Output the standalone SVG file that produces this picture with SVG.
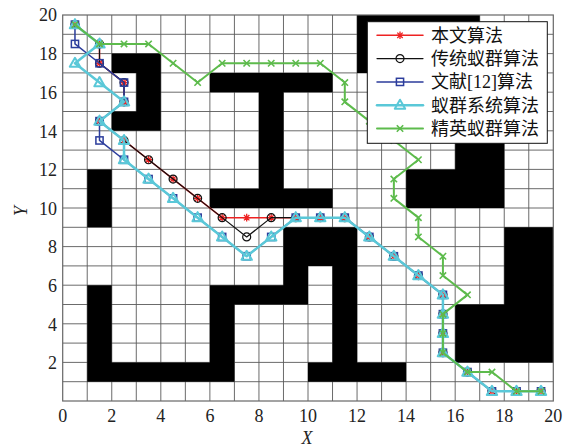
<svg xmlns="http://www.w3.org/2000/svg" width="569" height="447" viewBox="0 0 569 447">
<style>
.tick{font-family:"Liberation Serif","Times New Roman",serif;font-size:18px;fill:#222}
.lab{font-family:"Liberation Serif","Times New Roman",serif;font-size:18px;font-style:italic;fill:#222}
.leg{font-family:"Liberation Serif","Noto Sans CJK SC",serif;font-size:18px;fill:#111}
.path{fill:none;stroke-linejoin:round;stroke-linecap:round}
</style>
<defs>
<marker id="mRed" markerUnits="userSpaceOnUse" viewBox="-6 -6 12 12" markerWidth="12" markerHeight="12" refX="0" refY="0" orient="0" overflow="visible">
<path d="M-3.8,0H3.8M0,-3.8V3.8M-2.7,-2.7L2.7,2.7M-2.7,2.7L2.7,-2.7" fill="none" stroke="#ee2222" stroke-width="1.3"/>
</marker>
<marker id="mBlack" markerUnits="userSpaceOnUse" viewBox="-6 -6 12 12" markerWidth="12" markerHeight="12" refX="0" refY="0" orient="0" overflow="visible">
<circle r="4" fill="none" stroke="#111" stroke-width="1.2"/>
</marker>
<marker id="mBlue" markerUnits="userSpaceOnUse" viewBox="-6 -6 12 12" markerWidth="12" markerHeight="12" refX="0" refY="0" orient="0" overflow="visible">
<rect x="-3.6" y="-3.6" width="7.2" height="7.2" fill="none" stroke="#2c3d9c" stroke-width="1.5"/>
</marker>
<marker id="mCyan" markerUnits="userSpaceOnUse" viewBox="-7 -7 14 14" markerWidth="14" markerHeight="14" refX="0" refY="0" orient="0" overflow="visible">
<polygon points="0,-5.5 5.2,3.6 -5.2,3.6" fill="none" stroke="#5ac8d8" stroke-width="2" stroke-linejoin="round"/>
</marker>
<marker id="mGreen" markerUnits="userSpaceOnUse" viewBox="-6 -6 12 12" markerWidth="12" markerHeight="12" refX="0" refY="0" orient="0" overflow="visible">
<path d="M-3.2,-3.2L3.2,3.2M-3.2,3.2L3.2,-3.2" fill="none" stroke="#5dbb4c" stroke-width="1.6"/>
</marker>
</defs>
<rect width="569" height="447" fill="#fff"/>
<g id="grid">
<path fill="none" stroke="#5a5a5a" stroke-width="0.9" d="M87.23,15V401M111.76,15V401M136.29,15V401M160.82,15V401M185.35,15V401M209.88,15V401M234.41,15V401M258.94,15V401M283.47,15V401M308,15V401M332.53,15V401M357.06,15V401M381.59,15V401M406.12,15V401M430.65,15V401M455.18,15V401M479.71,15V401M504.24,15V401M528.77,15V401M62.7,381.7H553.3M62.7,362.4H553.3M62.7,343.1H553.3M62.7,323.8H553.3M62.7,304.5H553.3M62.7,285.2H553.3M62.7,265.9H553.3M62.7,246.6H553.3M62.7,227.3H553.3M62.7,208H553.3M62.7,188.7H553.3M62.7,169.4H553.3M62.7,150.1H553.3M62.7,130.8H553.3M62.7,111.5H553.3M62.7,92.2H553.3M62.7,72.9H553.3M62.7,53.6H553.3M62.7,34.3H553.3"/>
</g>
<g id="obstacles" transform="matrix(24.53 0 0 -19.3 62.7 401)">
<path fill="#000" fill-rule="nonzero" d="M3,14h1v4h-1zM2,17h1v1h-1zM2,14h1v1h-1zM6,16h5v1h-5zM8,11h1v5h-1zM6,10h5v1h-5zM12,17h1v3h-1zM13,19h4v1h-4zM14,10h4v2h-4zM16,12h2v2h-2zM1,9h1v3h-1zM1,1h1v5h-1zM2,1h5v1h-5zM6,2h1v4h-1zM7,5h3v1h-3zM9,5h1v4h-1zM10,7h2v2h-2zM11,1h1v6h-1zM10,1h4v1h-4zM18,2h2v7h-2zM16,2h2v3h-2z"/>
</g>
<g id="axes">
<rect x="62.7" y="15" width="490.6" height="386" fill="none" stroke="#666" stroke-width="1.2"/>
<g class="tick" text-anchor="end">
<text x="57" y="21">20</text>
<text x="57" y="60.3">18</text>
<text x="57" y="98.9">16</text>
<text x="57" y="137.5">14</text>
<text x="57" y="176.1">12</text>
<text x="57" y="214.7">10</text>
<text x="57" y="253.3">8</text>
<text x="57" y="291.9">6</text>
<text x="57" y="330.5">4</text>
<text x="57" y="369.1">2</text>
</g>
<g class="tick" text-anchor="middle">
<text x="62.7" y="422">0</text>
<text x="111.76" y="422">2</text>
<text x="160.82" y="422">4</text>
<text x="209.88" y="422">6</text>
<text x="258.94" y="422">8</text>
<text x="308" y="422">10</text>
<text x="357.06" y="422">12</text>
<text x="406.12" y="422">14</text>
<text x="455.18" y="422">16</text>
<text x="504.24" y="422">18</text>
<text x="553.3" y="422">20</text>
</g>
<text class="lab" x="307" y="444" text-anchor="middle">X</text>
<text class="lab" transform="translate(26.5,211) rotate(-90)" text-anchor="middle">Y</text>
</g>
<g id="connectors">
<polyline id="path-red" class="path" stroke="#ee2222" stroke-width="1.5" marker-start="url(#mRed)" marker-mid="url(#mRed)" marker-end="url(#mRed)" points="74.97,24.65 99.5,43.95 99.5,63.25 124.03,82.55 124.03,101.85 99.5,121.15 124.03,140.45 148.56,159.75 173.09,179.05 197.62,198.35 222.15,217.65 246.68,217.65 271.21,217.65 295.74,217.65 320.27,217.65 344.8,217.65 369.33,236.95 393.86,256.25 418.39,275.55 442.92,294.85 442.92,314.15 442.92,333.45 442.92,352.75 467.45,372.05 491.98,391.35 516.51,391.35 541.04,391.35"/>
<polyline id="path-black" class="path" stroke="#111" stroke-width="1.2" marker-start="url(#mBlack)" marker-mid="url(#mBlack)" marker-end="url(#mBlack)" points="74.97,24.65 99.5,43.95 99.5,63.25 124.03,82.55 124.03,101.85 99.5,121.15 124.03,140.45 148.56,159.75 173.09,179.05 197.62,198.35 222.15,217.65 246.68,236.95 271.21,217.65 295.74,217.65 320.27,217.65 344.8,217.65 369.33,236.95 393.86,256.25 418.39,275.55 442.92,294.85 442.92,314.15 442.92,333.45 442.92,352.75 467.45,372.05 491.98,391.35 516.51,391.35 541.04,391.35"/>
<polyline id="path-blue" class="path" stroke="#2c3d9c" stroke-width="1.5" marker-start="url(#mBlue)" marker-mid="url(#mBlue)" marker-end="url(#mBlue)" points="74.97,24.65 74.97,43.95 99.5,63.25 124.03,82.55 124.03,101.85 99.5,121.15 99.5,140.45 124.03,159.75 148.56,179.05 173.09,198.35 197.62,217.65 222.15,236.95 246.68,256.25 271.21,236.95 295.74,217.65 320.27,217.65 344.8,217.65 369.33,236.95 393.86,256.25 418.39,275.55 442.92,294.85 442.92,314.15 442.92,333.45 442.92,352.75 467.45,372.05 491.98,391.35 516.51,391.35 541.04,391.35"/>
<polyline id="path-cyan" class="path" stroke="#5ac8d8" stroke-width="2.5" marker-start="url(#mCyan)" marker-mid="url(#mCyan)" marker-end="url(#mCyan)" points="74.97,24.65 99.5,43.95 74.97,63.25 99.5,82.55 124.03,101.85 99.5,121.15 124.03,140.45 124.03,159.75 148.56,179.05 173.09,198.35 197.62,217.65 222.15,236.95 246.68,256.25 271.21,236.95 295.74,217.65 320.27,217.65 344.8,217.65 369.33,236.95 393.86,256.25 418.39,275.55 442.92,294.85 442.92,314.15 442.92,333.45 442.92,352.75 467.45,372.05 491.98,391.35 516.51,391.35 541.04,391.35"/>
<polyline id="path-green" class="path" stroke="#5dbb4c" stroke-width="2" marker-start="url(#mGreen)" marker-mid="url(#mGreen)" marker-end="url(#mGreen)" points="74.97,24.65 99.5,43.95 124.03,43.95 148.56,43.95 173.09,63.25 197.62,82.55 222.15,63.25 246.68,63.25 271.21,63.25 295.74,63.25 320.27,63.25 344.8,82.55 344.8,101.85 369.33,121.15 393.86,140.45 418.39,159.75 393.86,179.05 393.86,198.35 418.39,217.65 418.39,236.95 442.92,256.25 442.92,275.55 467.45,294.85 442.92,314.15 442.92,333.45 442.92,352.75 467.45,372.05 491.98,372.05 516.51,391.35 541.04,391.35"/>
</g>
<g id="legend">
<rect x="367.3" y="21.7" width="180" height="121.6" fill="#fff" stroke="#111" stroke-width="1"/>
<g id="leg-red">
<polyline class="path" stroke="#ee2222" stroke-width="1.5" marker-mid="url(#mRed)" points="377,35.3 400,35.3 423,35.3"/>
<text class="leg" x="431" y="41.8">本文算法</text>
</g>
<g id="leg-black">
<polyline class="path" stroke="#111" stroke-width="1.2" marker-mid="url(#mBlack)" points="377,58.6 400,58.6 423,58.6"/>
<text class="leg" x="431" y="65.1">传统蚁群算法</text>
</g>
<g id="leg-blue">
<polyline class="path" stroke="#2c3d9c" stroke-width="1.5" marker-mid="url(#mBlue)" points="377,81.9 400,81.9 423,81.9"/>
<text class="leg" x="431" y="88.4">文献[12]算法</text>
</g>
<g id="leg-cyan">
<polyline class="path" stroke="#5ac8d8" stroke-width="2.5" marker-mid="url(#mCyan)" points="377,105.2 400,105.2 423,105.2"/>
<text class="leg" x="431" y="111.7">蚁群系统算法</text>
</g>
<g id="leg-green">
<polyline class="path" stroke="#5dbb4c" stroke-width="2" marker-mid="url(#mGreen)" points="377,128.5 400,128.5 423,128.5"/>
<text class="leg" x="431" y="135">精英蚁群算法</text>
</g>
</g>
</svg>
